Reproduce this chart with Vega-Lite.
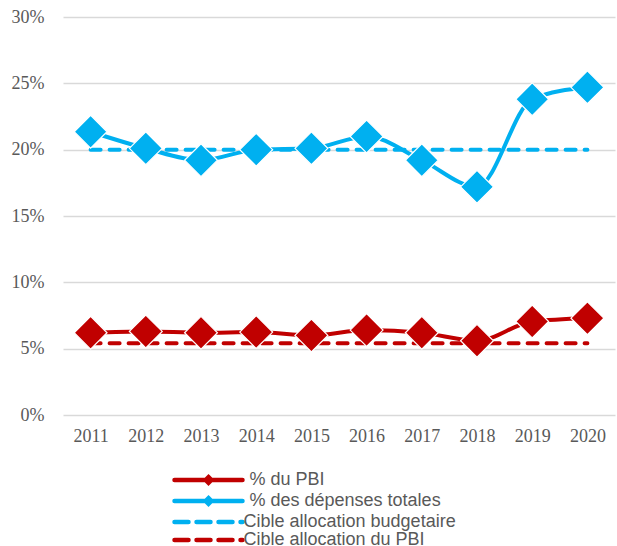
{
  "$schema": "https://vega.github.io/schema/vega-lite/v6.json",
  "width": 552,
  "height": 398,
  "autosize": "none",
  "padding": {"left": 63, "top": 17, "right": 2, "bottom": 131},
  "background": "white",
  "config": {"view": {"stroke": null}},
  "data": {"values": [
    {"year": "2011", "series": "% du PBI", "value": 6.2},
    {"year": "2012", "series": "% du PBI", "value": 6.3},
    {"year": "2013", "series": "% du PBI", "value": 6.2},
    {"year": "2014", "series": "% du PBI", "value": 6.25},
    {"year": "2015", "series": "% du PBI", "value": 6.0},
    {"year": "2016", "series": "% du PBI", "value": 6.4},
    {"year": "2017", "series": "% du PBI", "value": 6.2},
    {"year": "2018", "series": "% du PBI", "value": 5.6},
    {"year": "2019", "series": "% du PBI", "value": 7.05},
    {"year": "2020", "series": "% du PBI", "value": 7.3},
    {"year": "2011", "series": "% des dépenses totales", "value": 21.35},
    {"year": "2012", "series": "% des dépenses totales", "value": 20.1},
    {"year": "2013", "series": "% des dépenses totales", "value": 19.2},
    {"year": "2014", "series": "% des dépenses totales", "value": 20.0},
    {"year": "2015", "series": "% des dépenses totales", "value": 20.1},
    {"year": "2016", "series": "% des dépenses totales", "value": 21.0},
    {"year": "2017", "series": "% des dépenses totales", "value": 19.2},
    {"year": "2018", "series": "% des dépenses totales", "value": 17.2},
    {"year": "2019", "series": "% des dépenses totales", "value": 23.8},
    {"year": "2020", "series": "% des dépenses totales", "value": 24.7},
    {"year": "2011", "series": "Cible allocation budgetaire", "value": 20},
    {"year": "2012", "series": "Cible allocation budgetaire", "value": 20},
    {"year": "2013", "series": "Cible allocation budgetaire", "value": 20},
    {"year": "2014", "series": "Cible allocation budgetaire", "value": 20},
    {"year": "2015", "series": "Cible allocation budgetaire", "value": 20},
    {"year": "2016", "series": "Cible allocation budgetaire", "value": 20},
    {"year": "2017", "series": "Cible allocation budgetaire", "value": 20},
    {"year": "2018", "series": "Cible allocation budgetaire", "value": 20},
    {"year": "2019", "series": "Cible allocation budgetaire", "value": 20},
    {"year": "2020", "series": "Cible allocation budgetaire", "value": 20},
    {"year": "2011", "series": "Cible allocation du PBI", "value": 5.4},
    {"year": "2012", "series": "Cible allocation du PBI", "value": 5.4},
    {"year": "2013", "series": "Cible allocation du PBI", "value": 5.4},
    {"year": "2014", "series": "Cible allocation du PBI", "value": 5.4},
    {"year": "2015", "series": "Cible allocation du PBI", "value": 5.4},
    {"year": "2016", "series": "Cible allocation du PBI", "value": 5.4},
    {"year": "2017", "series": "Cible allocation du PBI", "value": 5.4},
    {"year": "2018", "series": "Cible allocation du PBI", "value": 5.4},
    {"year": "2019", "series": "Cible allocation du PBI", "value": 5.4},
    {"year": "2020", "series": "Cible allocation du PBI", "value": 5.4}
  ]},
  "encoding": {
    "x": {"field": "year", "type": "ordinal", "title": null,
      "scale": {"type": "point", "padding": 0.5},
      "axis": {"labelAngle": 0, "domain": false, "ticks": false, "labelPadding": 12,
        "labelFont": "Liberation Serif", "labelFontSize": 18, "labelColor": "#595959"}},
    "y": {"field": "value", "type": "quantitative", "title": null,
      "scale": {"domain": [0, 30], "nice": false},
      "axis": {"values": [0, 5, 10, 15, 20, 25, 30], "labelExpr": "datum.value + '%'",
        "domain": false, "ticks": false, "labelPadding": 19, "grid": true,
        "gridColor": "#d9d9d9", "gridWidth": 1.5,
        "labelFont": "Liberation Serif", "labelFontSize": 18, "labelColor": "#595959"}},
    "color": {"field": "series", "type": "nominal",
      "scale": {"domain": ["% du PBI", "% des dépenses totales", "Cible allocation budgetaire", "Cible allocation du PBI"],
        "range": ["#C00000", "#00B0F0", "#00B0F0", "#C00000"]},
      "legend": {"orient": "none", "legendX": 104, "legendY": 454, "direction": "vertical", "title": null,
        "symbolSize": 64, "symbolStrokeWidth": 4.5, "symbolOffset": 32.5, "labelFont": "Liberation Sans", "labelFontSize": 18,
        "labelColor": "#595959", "rowPadding": -3.5, "labelOffset": 26, "labelLimit": 400, "padding": 0,
        "encode": {
          "symbols": {"update": {
            "shape": {"signal": "indexof(datum.value,'Cible')===0 ? 'M-8.5,0H8.5' : 'M-8.5,0H8.5M0,-0.7L0.7,0L0,0.7L-0.7,0Z'"},
            "strokeDash": {"signal": "indexof(datum.value,'Cible')===0 ? [14,8] : []"},
            "strokeCap": {"value": "round"},
            "fill": {"signal": "indexof(datum.value,'Cible')===0 ? 'transparent' : (datum.value==='% du PBI' ? '#C00000' : '#00B0F0')"},
            "stroke": {"signal": "(datum.value==='% du PBI' || datum.value==='Cible allocation du PBI') ? '#C00000' : '#00B0F0'"},
            "opacity": {"value": 1}
          }},
          "labels": {"update": {
            "dx": {"signal": "indexof(datum.value,'Cible')===0 ? 0 : 6"}
          }}
        }}}
  },
  "layer": [
    {"transform": [{"filter": "indexof(datum.series,'Cible')===0"}],
     "mark": {"type": "line", "strokeWidth": 4, "strokeDash": [10, 9], "strokeCap": "round"}},
    {"transform": [{"filter": "indexof(datum.series,'Cible')!==0"}],
     "mark": {"type": "line", "strokeWidth": 4, "interpolate": "monotone"}},
    {"transform": [{"filter": "indexof(datum.series,'Cible')!==0"}],
     "mark": {"type": "point", "shape": "diamond", "filled": true, "size": 1080, "opacity": 1,
       "stroke": "white", "strokeWidth": 1.2}}
  ]
}
